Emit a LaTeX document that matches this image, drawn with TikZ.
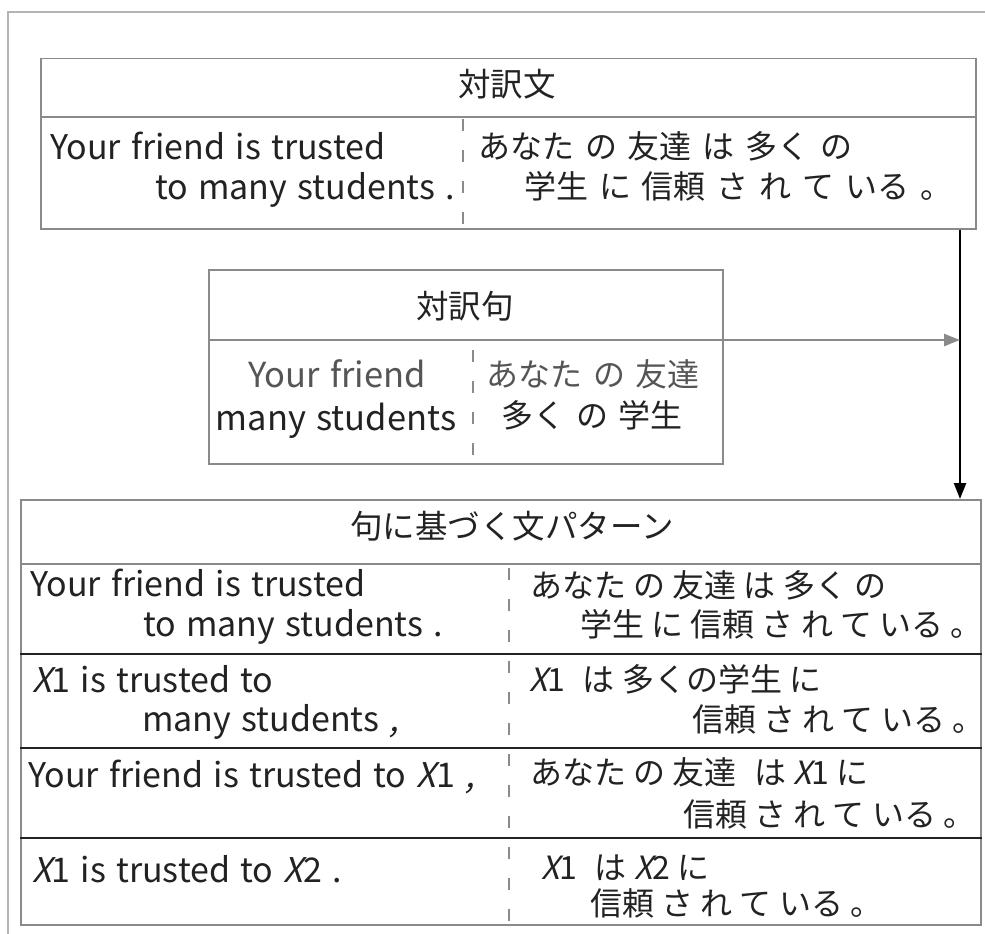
\documentclass[tikz,border=0pt]{standalone}
\usepackage{fontspec}
\setmainfont{Noto Sans CJK JP}
\newfontfamily\xfont[FakeSlant=0.22]{Noto Sans CJK JP}
\usetikzlibrary{arrows.meta}
\definecolor{framegray}{HTML}{B4B4B4}
\definecolor{boxgray}{HTML}{8A8A8A}
\definecolor{ink}{HTML}{222222}
\definecolor{lightink}{HTML}{555555}
\newcommand{\Xv}{{\xfont X}}
\newcommand{\sdot}{{\xfont ,}}
\newcommand{\dsp}{\hspace{0.55em}}
\newcommand{\jpwide}{\fontsize{32}{38}\selectfont\spaceskip 0.34em\relax}
\newcommand{\jpnar}{\fontsize{32}{38}\selectfont\spaceskip 0.225em\relax}
\newcommand{\enfont}{\fontsize{34}{40}\selectfont\spaceskip 0.3em\relax}
\newcommand{\enbig}{\fontsize{34.5}{40}\selectfont\spaceskip 0.3em\relax}
\begin{document}
\begin{tikzpicture}[x=1pt,y=-1pt,
  box/.style={draw=boxgray,line width=1.5pt,inner sep=0pt,anchor=north west},
  sep/.style={draw=boxgray,line width=1.5pt},
  rowsep/.style={draw=ink,line width=1.3pt},
  dsh/.style={draw=boxgray,line width=1.2pt,dash pattern=on 12pt off 19pt},
  en/.style={inner sep=0pt,text=ink,font=\enfont},
  jp/.style={inner sep=0pt,text=ink,font=\jpwide},
  jn/.style={inner sep=0pt,text=ink,font=\jpnar},
  hd/.style={inner sep=0pt,text=ink,font=\fontsize{32.5}{38}\selectfont,anchor=base},
  ew/.style={en,anchor=base west},
  ee/.style={en,anchor=base east},
  ec/.style={en,anchor=base,font=\enbig},
  jw/.style={jp,anchor=base west},
  nw/.style={jn,anchor=base west},
  arr/.style={line width=2.4pt,-{Triangle[length=16pt,width=12pt]}}
]
\useasboundingbox (0,0) rectangle (985,934);
% outer frame
\draw[framegray,line width=1.2pt] (8,934) -- (8,12) -- (985,12);

% Box 1
\node[box,minimum width=935pt,minimum height=170pt] (b1) at (40,58) {};
\coordinate (b1h) at (40,117);
\draw[sep] (b1h) -- (b1h -| b1.east);
\coordinate (b1dt) at (463,119);
\draw[dsh] (b1dt) -- (b1dt |- b1.south);
\node[hd] (t1) at (507,96) {対訳文};
\node[ew] (e1a) at (50,159) {Your friend is trusted};
\node[ee] (e1b) at (455,199) {to many students .};
\node[jw] (j1a) at (478,158) {あなた の 友達 は 多く の};
\node[jw] (j1b) at (524,198) {学生 に 信頼 さ れ て いる 。};

% Box 2
\node[box,minimum width=514pt,minimum height=194pt] (b2) at (208,269) {};
\coordinate (b2h) at (208,340);
\draw[sep] (b2h) -- (b2h -| b2.east);
\coordinate (b2dt) at (473,350);
\draw[dsh] (b2dt) -- (b2dt |- b2.south);
\node[hd] (t2) at (465,318) {対訳句};
\node[ec,text=lightink] (e2a) at (337,387) {Your friend};
\node[ec] (e2b) at (336,430) {many students};
\node[jw,text=lightink] (j2a) at (486,386) {あなた の 友達};
\node[jw] (j2b) at (501,427) {多く の 学生};

% Box 3
\node[box,minimum width=960pt,minimum height=425pt] (b3) at (20,499) {};
\coordinate (b3h) at (20,564);
\draw[sep] (b3h) -- (b3h -| b3.east);
\coordinate (r1) at (20,654);
\coordinate (r2) at (20,748);
\coordinate (r3) at (20,838);
\draw[rowsep] (r1) -- (r1 -| b3.east);
\draw[rowsep] (r2) -- (r2 -| b3.east);
\draw[rowsep] (r3) -- (r3 -| b3.east);
\coordinate (b3dt) at (509,568);
\draw[dsh] (b3dt) -- (b3dt |- b3.south);
\node[hd] (t3) at (512,538) {句に基づく文パターン};
% row 1
\node[ew] (e31a) at (30,596) {Your friend is trusted};
\node[ee] (e31b) at (443,636) {to many students .};
\node[nw] (j31a) at (530,597) {あなた の 友達 は 多く の};
\node[nw] (j31b) at (580,636) {学生 に 信頼 さ れ て いる 。};
% row 2
\node[ew] (e32a) at (32,692) {\Xv1 is trusted to};
\node[ee] (e32b) at (399,731) {many students \sdot};
\node[nw] (j32a) at (529,691) {\Xv1\dsp は 多くの学生 に};
\node[nw] (j32b) at (692,731) {信頼 さ れ て いる 。};
% row 3
\node[ew] (e33a) at (28,787) {Your friend is trusted to \Xv1 \sdot};
\node[nw] (j33a) at (530,784) {あなた の 友達\dsp は \Xv1 に};
\node[nw] (j33b) at (683,826) {信頼 さ れ て いる 。};
% row 4
\node[ew] (e34a) at (32,882) {\Xv1 is trusted to \Xv2 .};
\node[nw] (j34a) at (541,879) {\Xv1\dsp は \Xv2 に};
\node[nw] (j34b) at (590,915) {信頼 さ れ て いる 。};

% connectors
\coordinate (a1s) at (960,0);
\draw[arr,draw=black,fill=black] (b1.south -| a1s) -- (b3.north -| a1s);
\coordinate (a2e) at (960,340);
\draw[arr,draw=boxgray,fill=boxgray] (b2h -| b2.east) -- (a2e);
\end{tikzpicture}
\end{document}
